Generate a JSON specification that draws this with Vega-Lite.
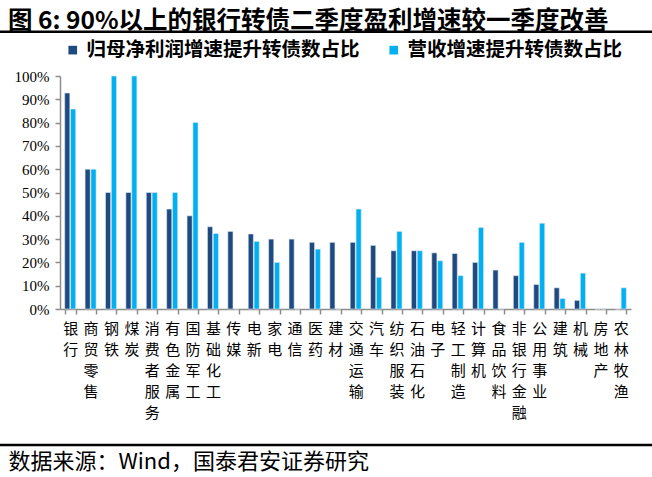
{
  "$schema": "https://vega.github.io/schema/vega-lite/v6.json",
  "width": 571,
  "height": 233,
  "autosize": {"type": "none"},
  "padding": {"left": 60, "top": 76, "right": 21, "bottom": 168},
  "background": "white",
  "title": {
    "text": "图 6: 90%以上的银行转债二季度盈利增速较一季度改善",
    "anchor": "start",
    "frame": "group",
    "dx": -52,
    "offset": -4,
    "font": "Noto Sans CJK SC",
    "fontSize": 24.5,
    "fontWeight": "bold",
    "color": "black"
  },
  "config": {
    "view": {"stroke": null},
    "font": "Noto Sans CJK SC"
  },
  "data": {
    "values": [
      {"ind": "银行", "s": "归母净利润增速提升转债数占比", "v": 0.927},
      {"ind": "银行", "s": "营收增速提升转债数占比", "v": 0.858},
      {"ind": "商贸零售", "s": "归母净利润增速提升转债数占比", "v": 0.6},
      {"ind": "商贸零售", "s": "营收增速提升转债数占比", "v": 0.6},
      {"ind": "钢铁", "s": "归母净利润增速提升转债数占比", "v": 0.5},
      {"ind": "钢铁", "s": "营收增速提升转债数占比", "v": 1.0},
      {"ind": "煤炭", "s": "归母净利润增速提升转债数占比", "v": 0.5},
      {"ind": "煤炭", "s": "营收增速提升转债数占比", "v": 1.0},
      {"ind": "消费者服务", "s": "归母净利润增速提升转债数占比", "v": 0.5},
      {"ind": "消费者服务", "s": "营收增速提升转债数占比", "v": 0.5},
      {"ind": "有色金属", "s": "归母净利润增速提升转债数占比", "v": 0.429},
      {"ind": "有色金属", "s": "营收增速提升转债数占比", "v": 0.5},
      {"ind": "国防军工", "s": "归母净利润增速提升转债数占比", "v": 0.4},
      {"ind": "国防军工", "s": "营收增速提升转债数占比", "v": 0.8},
      {"ind": "基础化工", "s": "归母净利润增速提升转债数占比", "v": 0.353},
      {"ind": "基础化工", "s": "营收增速提升转债数占比", "v": 0.324},
      {"ind": "传媒", "s": "归母净利润增速提升转债数占比", "v": 0.333},
      {"ind": "传媒", "s": "营收增速提升转债数占比", "v": 0},
      {"ind": "电新", "s": "归母净利润增速提升转债数占比", "v": 0.322},
      {"ind": "电新", "s": "营收增速提升转债数占比", "v": 0.29},
      {"ind": "家电", "s": "归母净利润增速提升转债数占比", "v": 0.3},
      {"ind": "家电", "s": "营收增速提升转债数占比", "v": 0.2},
      {"ind": "通信", "s": "归母净利润增速提升转债数占比", "v": 0.3},
      {"ind": "通信", "s": "营收增速提升转债数占比", "v": 0},
      {"ind": "医药", "s": "归母净利润增速提升转债数占比", "v": 0.286},
      {"ind": "医药", "s": "营收增速提升转债数占比", "v": 0.257},
      {"ind": "建材", "s": "归母净利润增速提升转债数占比", "v": 0.286},
      {"ind": "建材", "s": "营收增速提升转债数占比", "v": 0},
      {"ind": "交通运输", "s": "归母净利润增速提升转债数占比", "v": 0.286},
      {"ind": "交通运输", "s": "营收增速提升转债数占比", "v": 0.429},
      {"ind": "汽车", "s": "归母净利润增速提升转债数占比", "v": 0.273},
      {"ind": "汽车", "s": "营收增速提升转债数占比", "v": 0.136},
      {"ind": "纺织服装", "s": "归母净利润增速提升转债数占比", "v": 0.25},
      {"ind": "纺织服装", "s": "营收增速提升转债数占比", "v": 0.333},
      {"ind": "石油石化", "s": "归母净利润增速提升转债数占比", "v": 0.25},
      {"ind": "石油石化", "s": "营收增速提升转债数占比", "v": 0.25},
      {"ind": "电子", "s": "归母净利润增速提升转债数占比", "v": 0.241},
      {"ind": "电子", "s": "营收增速提升转债数占比", "v": 0.207},
      {"ind": "轻工制造", "s": "归母净利润增速提升转债数占比", "v": 0.238},
      {"ind": "轻工制造", "s": "营收增速提升转债数占比", "v": 0.143},
      {"ind": "计算机", "s": "归母净利润增速提升转债数占比", "v": 0.2},
      {"ind": "计算机", "s": "营收增速提升转债数占比", "v": 0.35},
      {"ind": "食品饮料", "s": "归母净利润增速提升转债数占比", "v": 0.167},
      {"ind": "食品饮料", "s": "营收增速提升转债数占比", "v": 0},
      {"ind": "非银行金融", "s": "归母净利润增速提升转债数占比", "v": 0.143},
      {"ind": "非银行金融", "s": "营收增速提升转债数占比", "v": 0.286},
      {"ind": "公用事业", "s": "归母净利润增速提升转债数占比", "v": 0.105},
      {"ind": "公用事业", "s": "营收增速提升转债数占比", "v": 0.368},
      {"ind": "建筑", "s": "归母净利润增速提升转债数占比", "v": 0.091},
      {"ind": "建筑", "s": "营收增速提升转债数占比", "v": 0.045},
      {"ind": "机械", "s": "归母净利润增速提升转债数占比", "v": 0.037},
      {"ind": "机械", "s": "营收增速提升转债数占比", "v": 0.154},
      {"ind": "房地产", "s": "归母净利润增速提升转债数占比", "v": 0},
      {"ind": "房地产", "s": "营收增速提升转债数占比", "v": 0},
      {"ind": "农林牧渔", "s": "归母净利润增速提升转债数占比", "v": 0},
      {"ind": "农林牧渔", "s": "营收增速提升转债数占比", "v": 0.091}
    ]
  },
  "layer": [
    {
      "mark": {"type": "bar", "stroke": "#dfe9f5", "strokeWidth": 0.6},
      "encoding": {
        "x": {
          "field": "ind",
          "type": "nominal",
          "sort": null,
          "scale": {"paddingInner": 0.46, "paddingOuter": 0.23},
          "axis": {
            "title": "数据来源：Wind，国泰君安证券研究",
            "titleFont": "Noto Sans CJK SC",
            "titleFontSize": 22,
            "titleFontWeight": "normal",
            "titleColor": "black",
            "titleAnchor": "start",
            "titleAlign": "left",
            "titleBaseline": "middle",
            "titleX": -52,
            "titleY": 152,
            "labelAngle": 0,
            "labelExpr": "split(datum.label, '')",
            "labelLineHeight": 21,
            "labelFont": "Noto Sans CJK SC",
            "labelFontSize": 15,
            "labelColor": "black",
            "labelBaseline": "top",
            "labelPadding": 7,
            "labelOverlap": false,
            "tickBand": "extent",
            "tickSize": 5,
            "tickColor": "#8c8c8c",
            "tickWidth": 1.5,
            "domainColor": "#8c8c8c",
            "domainWidth": 1.5
          }
        },
        "xOffset": {
          "field": "s",
          "type": "nominal",
          "sort": ["归母净利润增速提升转债数占比", "营收增速提升转债数占比"],
          "scale": {"paddingInner": 0.12}
        },
        "y": {
          "field": "v",
          "type": "quantitative",
          "scale": {"domain": [0, 1], "nice": false},
          "axis": {
            "title": null,
            "format": ".0%",
            "values": [0, 0.1, 0.2, 0.3, 0.4, 0.5, 0.6, 0.7, 0.8, 0.9, 1.0],
            "labelOverlap": false,
            "labelBound": false,
            "grid": false,
            "labelFont": "Liberation Serif",
            "labelFontSize": 15,
            "labelColor": "black",
            "labelPadding": 6,
            "tickSize": 5,
            "tickColor": "#8c8c8c",
            "tickWidth": 1.5,
            "domainColor": "#8c8c8c",
            "domainWidth": 1.5
          }
        },
        "color": {
          "field": "s",
          "type": "nominal",
          "sort": ["归母净利润增速提升转债数占比", "营收增速提升转债数占比"],
          "scale": {"range": ["#1f4a80", "#00b0f0"]},
          "legend": {
            "title": null,
            "orient": "none",
            "direction": "horizontal",
            "legendX": 3,
            "legendY": -36,
            "symbolType": "square",
            "symbolSize": 75,
            "symbolStrokeWidth": 0,
            "labelFont": "Noto Sans CJK SC",
            "labelFontSize": 19.5,
            "labelFontWeight": "bold",
            "labelColor": "black",
            "labelLimit": 400,
            "columnPadding": 24,
            "labelOffset": 4
          }
        }
      }
    },
    {
      "data": {"values": [{"v": 1.19}, {"v": -0.584}]},
      "mark": {"type": "rule", "color": "black", "strokeWidth": 2.5},
      "encoding": {
        "y": {
          "field": "v",
          "type": "quantitative",
          "axis": {
            "title": null,
            "format": ".0%",
            "values": [0, 0.1, 0.2, 0.3, 0.4, 0.5, 0.6, 0.7, 0.8, 0.9, 1.0],
            "labelOverlap": false,
            "labelBound": false,
            "grid": false,
            "labelFont": "Liberation Serif",
            "labelFontSize": 15,
            "labelColor": "black",
            "labelPadding": 6,
            "tickSize": 5,
            "tickColor": "#8c8c8c",
            "tickWidth": 1.5,
            "domainColor": "#8c8c8c",
            "domainWidth": 1.5
          }
        },
        "x": {"value": -60},
        "x2": {"value": 592}
      }
    }
  ]
}
